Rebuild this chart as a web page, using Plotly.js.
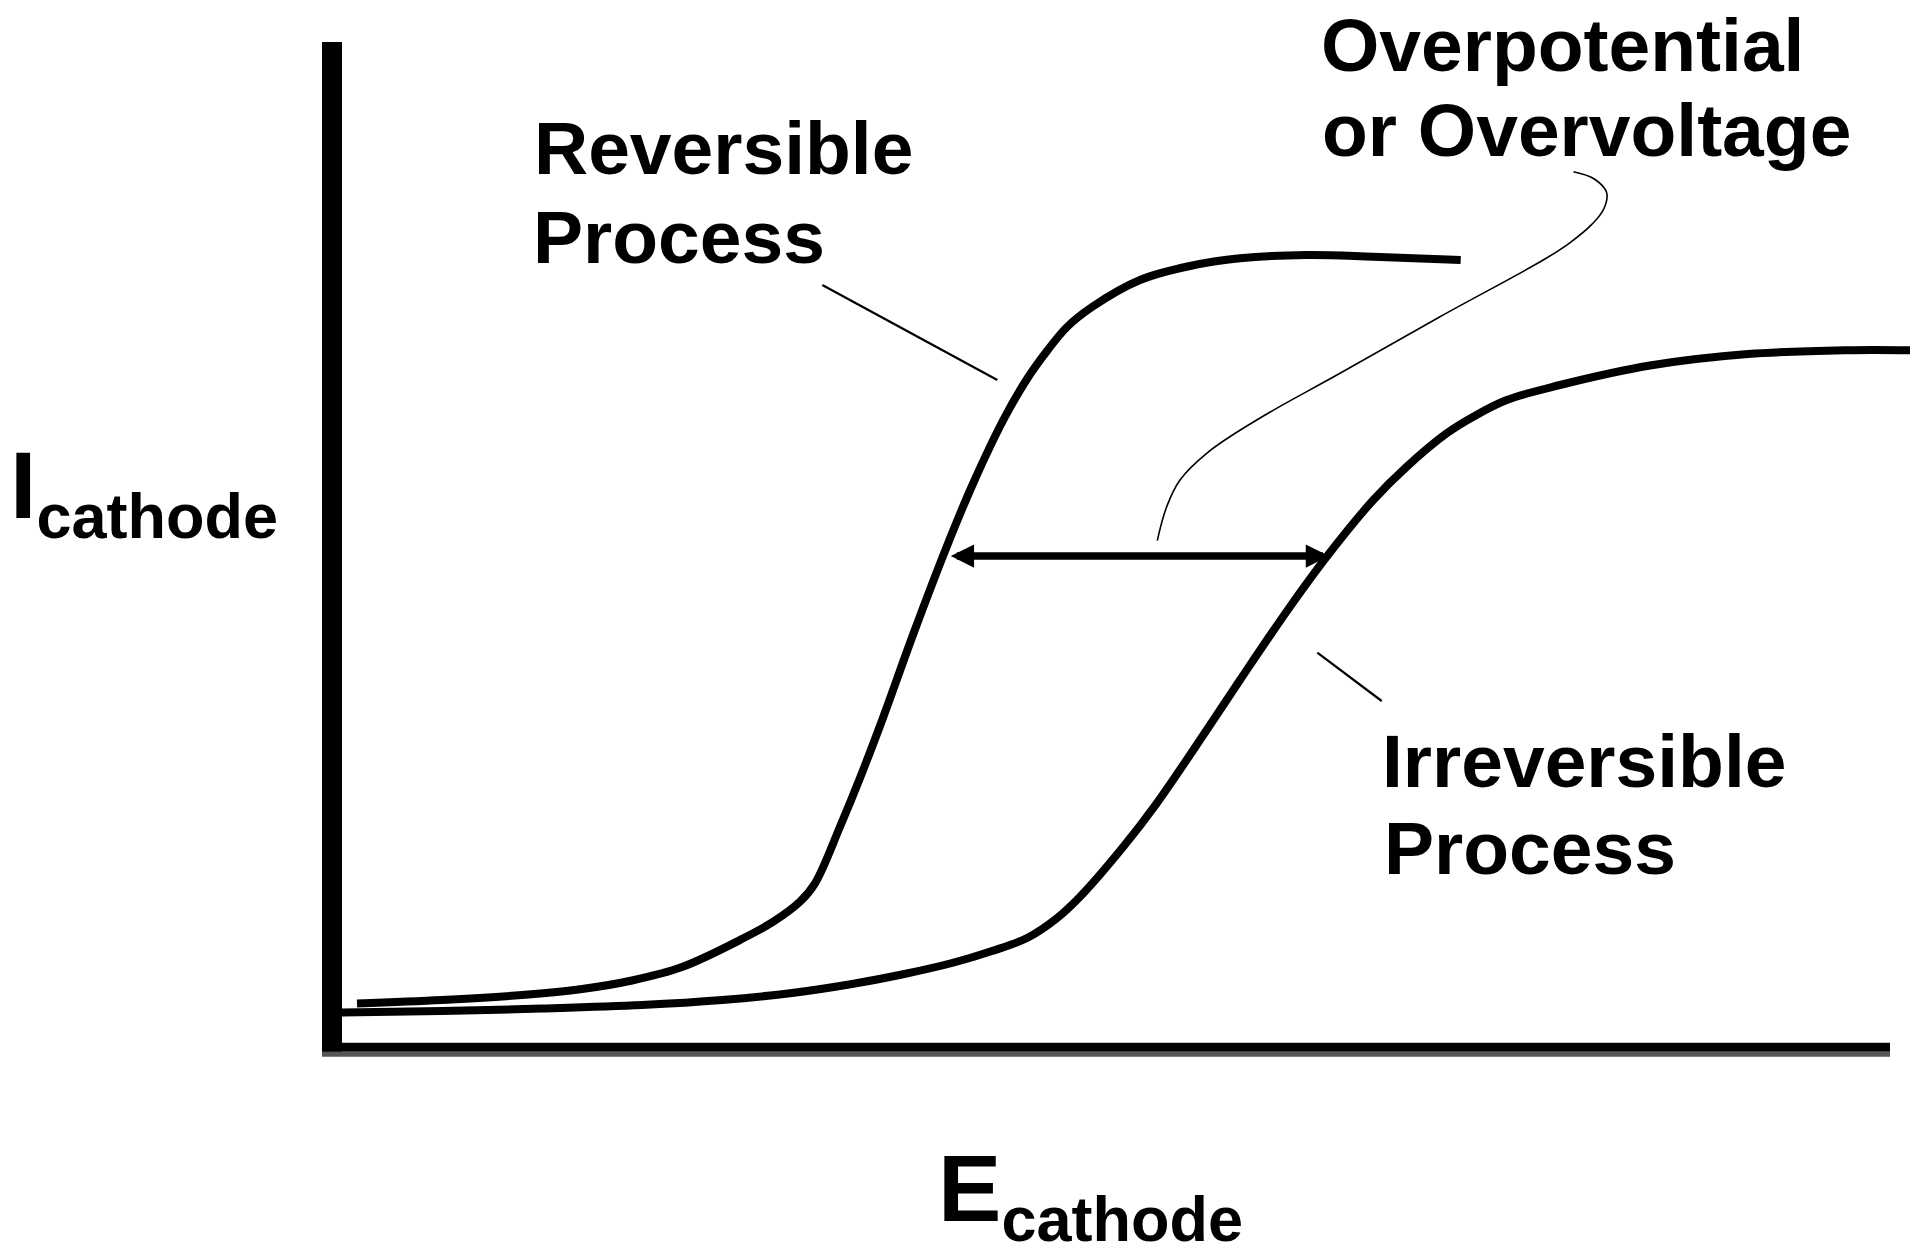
<!DOCTYPE html>
<html>
<head>
<meta charset="utf-8">
<script src="https://cdn.plot.ly/plotly-3.0.1.min.js"></script>
<style>html,body{margin:0;padding:0;background:#fff;}#chart{width:1923px;height:1259px;}</style>
</head>
<body>
<div id="chart"></div>
<script>
// ---- Data (E and I in arbitrary units) ----
const E_reversible = [1.5, 10, 18, 24, 29, 34, 40.13, 43.13, 45.8, 47.3, 49.8, 51.8, 54.13, 57.13, 60.47, 63.13, 66.13, 68.5, 70.5, 72.5, 75.0, 79.8, 84.8, 89.8, 96.47, 103.13, 111.87];
const I_reversible = [3.95, 4.3, 4.8, 5.4, 6.25, 7.6, 10.47, 12.13, 14.13, 15.97, 21.63, 26.5, 32.6, 40.9, 49.63, 56.0, 62.3, 66.4, 69.2, 71.6, 73.6, 76.3, 77.7, 78.47, 78.8, 78.63, 78.3];

const E_irreversible = [0, 10, 20, 30, 38, 45, 51, 56, 61, 65, 68.5, 71.47, 73.8, 78.13, 81.47, 86.47, 89.8, 94.8, 98.6, 103.13, 106.47, 110.47, 113.13, 116.47, 121.8, 130.8, 140.6, 150.4, 156.8];
const I_irreversible = [3.05, 3.2, 3.45, 3.8, 4.3, 5.0, 5.9, 6.85, 8.0, 9.2, 10.5, 12.47, 14.63, 19.63, 23.97, 31.3, 36.3, 43.63, 48.8, 54.3, 57.63, 60.97, 62.63, 64.3, 65.8, 67.75, 68.9, 69.28, 69.28];

// overpotential: horizontal gap between the two waves at equal current
const overpotential = { E_rev: 60.73, E_irr: 98.7, I: 48.7 };

// leader lines pointing at the labels
const leaderOver_E = [123.15, 125.23, 126.46, 126.2, 124.98, 122.78, 120.33, 109.8, 99.8, 91.47, 86.47, 83.8, 82.47, 81.53];
const leaderOver_I = [87.13, 86.4, 85.05, 83.45, 81.86, 80.02, 78.42, 72.63, 66.97, 62.3, 58.97, 56.3, 53.63, 50.23];
const leaderRev_E = [48.03, 65.53];
const leaderRev_I = [75.8, 66.3];
const leaderIrr_E = [97.53, 103.97];
const leaderIrr_I = [39.03, 34.2];

// axis extents (data units)
const axisE_max = 154.8;
const axisI_max = 100.1;

// ---- Figure ----
const FONT = 'Liberation Sans, Arial, Helvetica, sans-serif';
const curveLine = { color: '#000', width: 8, shape: 'spline', smoothing: 1 };

const traces = [
  { x: E_reversible, y: I_reversible, mode: 'lines', line: curveLine, name: 'Reversible Process', hoverinfo: 'skip', showlegend: false },
  { x: E_irreversible, y: I_irreversible, mode: 'lines', line: curveLine, name: 'Irreversible Process', hoverinfo: 'skip', showlegend: false },
  { x: leaderOver_E, y: leaderOver_I, mode: 'lines', line: { color: '#000', width: 1.6, shape: 'spline', smoothing: 1.1 }, hoverinfo: 'skip', showlegend: false },
  { x: leaderRev_E, y: leaderRev_I, mode: 'lines', line: { color: '#000', width: 2.2 }, hoverinfo: 'skip', showlegend: false },
  { x: leaderIrr_E, y: leaderIrr_I, mode: 'lines', line: { color: '#000', width: 2.2 }, hoverinfo: 'skip', showlegend: false }
];

function label(text, x, y, size) {
  return { text: text, xref: 'paper', yref: 'paper', x: x, y: y, xanchor: 'left', yanchor: 'top',
           showarrow: false, font: { family: FONT, size: size, color: '#000', weight: 'bold' } };
}

const annotations = [
  label('Reversible', 0.13456, 0.92798, 75),
  label('Process', 0.13394, 0.84182, 75),
  label('Overpotential', 0.62644, 1.0285, 75),
  label('or Overvoltage', 0.626875, 0.94618, 75),
  label('Irreversible', 0.664375, 0.33485, 75),
  label('Process', 0.665375, 0.25044, 75),
  label('I<sub><span style="font-size:63px">cathode</span></sub>', -0.193125, 0.61317, 95),
  label('E<sub><span style="font-size:63px">cathode</span></sub>', 0.386875, -0.06776, 95),
  { x: overpotential.E_irr, y: overpotential.I, ax: overpotential.E_rev, ay: overpotential.I,
    xref: 'x', yref: 'y', axref: 'x', ayref: 'y', text: '', showarrow: true,
    arrowhead: 2, startarrowhead: 2, arrowside: 'end+start', arrowwidth: 7.5,
    arrowsize: 0.62, startarrowsize: 0.62, arrowcolor: '#000', standoff: 0, startstandoff: 0 }
];

const shapes = [
  // vertical axis (I)
  { type: 'line', xref: 'x', yref: 'y', x0: -1.0, x1: -1.0, y0: -0.87, y1: axisI_max, line: { color: '#000', width: 20 } },
  // horizontal axis (E) with its grey lower edge
  { type: 'line', xref: 'x', yref: 'y', x0: -2.0, x1: axisE_max, y0: -0.42, y1: -0.42, line: { color: '#000', width: 9 } },
  { type: 'line', xref: 'x', yref: 'y', x0: -2.0, x1: axisE_max, y0: -1.12, y1: -1.12, line: { color: '#555555', width: 5 } }
];

const hidden = { showgrid: false, zeroline: false, showline: false, showticklabels: false, ticks: '', fixedrange: true };

const layout = {
  width: 1923, height: 1259, autosize: false,
  margin: { l: 317, r: 6, t: 30, b: 196, pad: 0 },
  paper_bgcolor: '#ffffff', plot_bgcolor: '#ffffff',
  xaxis: Object.assign({ range: [-2.5, 157.5] }, hidden),
  yaxis: Object.assign({ range: [-2.0, 101.3] }, hidden),
  showlegend: false,
  shapes: shapes,
  annotations: annotations,
  font: { family: FONT }
};

Plotly.newPlot('chart', traces, layout, { staticPlot: true, displayModeBar: false });
</script>
</body>
</html>
